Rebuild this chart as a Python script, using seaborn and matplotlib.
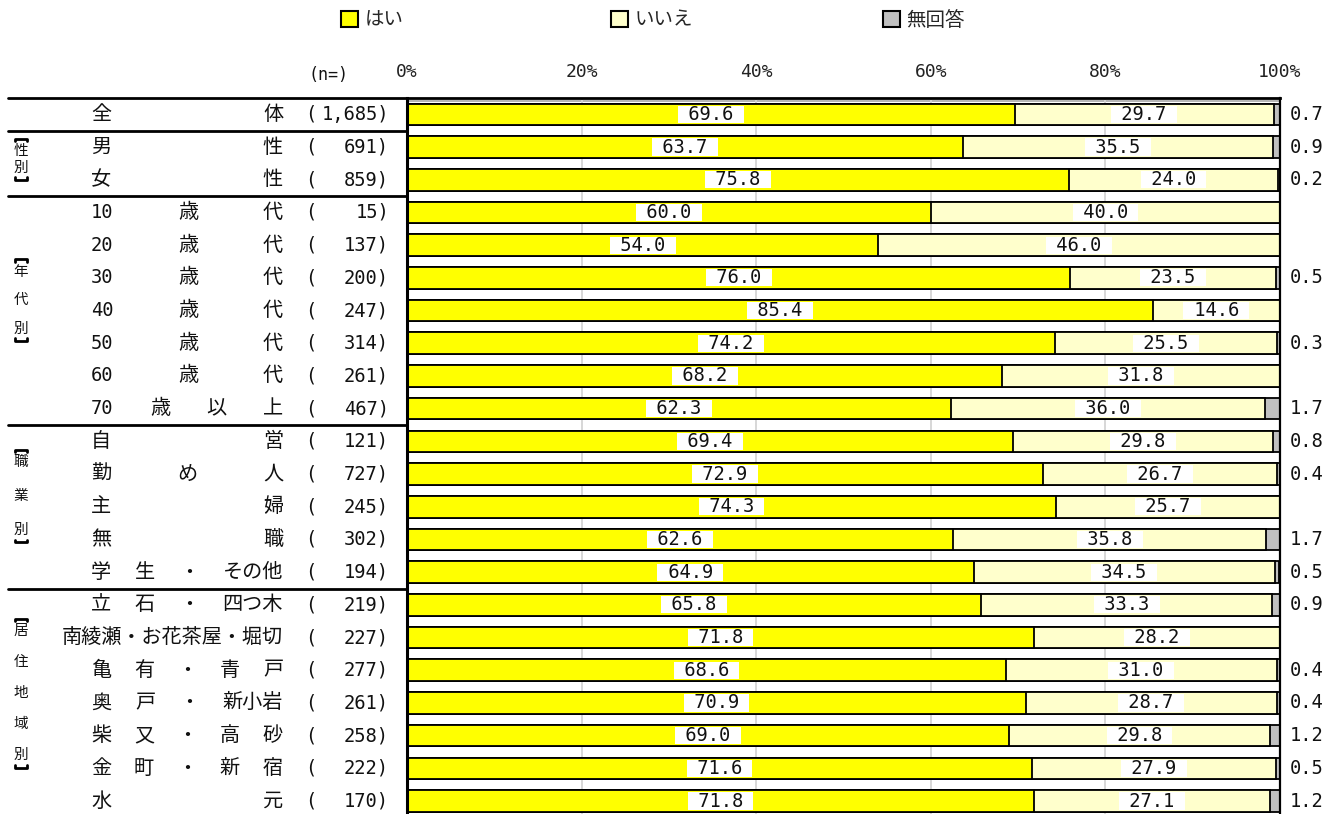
import matplotlib
matplotlib.use("Agg")
import matplotlib.pyplot as plt
from matplotlib.lines import Line2D
from matplotlib.patches import Patch
from matplotlib.transforms import blended_transform_factory
import seaborn as sns
import pandas as pd

# ---------------- data ----------------
categories = ["全体", "男性", "女性", "10歳代", "20歳代", "30歳代", "40歳代", "50歳代",
              "60歳代", "70歳以上", "自営", "勤め人", "主婦", "無職", "学生・その他",
              "立石・四つ木", "南綾瀬・お花茶屋・堀切", "亀有・青戸", "奥戸・新小岩",
              "柴又・高砂", "金町・新宿", "水元"]
label_parts = [["全", "体"], ["男", "性"], ["女", "性"], ["10", "歳", "代"],
               ["20", "歳", "代"], ["30", "歳", "代"], ["40", "歳", "代"],
               ["50", "歳", "代"], ["60", "歳", "代"], ["70", "歳", "以", "上"],
               ["自", "営"], ["勤", "め", "人"], ["主", "婦"], ["無", "職"],
               ["学", "生", "・", "その他"], ["立", "石", "・", "四つ木"],
               ["南綾瀬・お花茶屋・堀切"], ["亀", "有", "・", "青", "戸"],
               ["奥", "戸", "・", "新小岩"], ["柴", "又", "・", "高", "砂"],
               ["金", "町", "・", "新", "宿"], ["水", "元"]]
n_values = [1685, 691, 859, 15, 137, 200, 247, 314, 261, 467, 121, 727, 245, 302,
            194, 219, 227, 277, 261, 258, 222, 170]
yes_values = [69.6, 63.7, 75.8, 60.0, 54.0, 76.0, 85.4, 74.2, 68.2, 62.3, 69.4, 72.9,
              74.3, 62.6, 64.9, 65.8, 71.8, 68.6, 70.9, 69.0, 71.6, 71.8]
no_values = [29.7, 35.5, 24.0, 40.0, 46.0, 23.5, 14.6, 25.5, 31.8, 36.0, 29.8, 26.7,
             25.7, 35.8, 34.5, 33.3, 28.2, 31.0, 28.7, 29.8, 27.9, 27.1]
na_values = [0.7, 0.9, 0.2, 0.0, 0.0, 0.5, 0.0, 0.3, 0.0, 1.7, 0.8, 0.4,
             0.0, 1.7, 0.5, 0.9, 0.0, 0.4, 0.4, 1.2, 0.5, 1.2]
series_names = ["はい", "いいえ", "無回答"]
group_names = ["性別", "年代別", "職業別", "居住地域別"]
group_rows = [(1, 2), (3, 9), (10, 14), (15, 21)]
tick_values = [0, 20, 40, 60, 80, 100]

# ---------------- style ----------------
colors = ["#FFFF00", "#FFFFCC", "#C0C0C0"]
W, H = 1339, 814
sns.set_theme(style="white")
JP = ["Noto Sans CJK JP", "DejaVu Sans"]
MONO = ["DejaVu Sans Mono", "Noto Sans CJK JP"]
plt.rcParams["font.family"] = JP

fig = plt.figure(figsize=(W / 100, H / 100), dpi=100)
AX_L, AX_R, AX_T = 407, 1280, 98
PITCH = 32.7
ax = fig.add_axes([AX_L / W, 0, (AX_R - AX_L) / W, 1 - AX_T / H])

df = pd.DataFrame({"category": categories, "yes": yes_values,
                   "no": no_values, "na": na_values})
df["cum_no"] = df["yes"] + df["no"]
df["cum_na"] = df["cum_no"] + df["na"]

bar_kw = dict(orient="h", width=0.66, edgecolor="black", linewidth=1.3,
              saturation=1, errorbar=None, ax=ax, order=categories)
sns.barplot(data=df, x="cum_na", y="category", color=colors[2], **bar_kw)
sns.barplot(data=df, x="cum_no", y="category", color=colors[1], **bar_kw)
sns.barplot(data=df, x="yes", y="category", color=colors[0], **bar_kw)

ax.set_xlim(0, 100)
ax.set_xlabel("")
ax.set_ylabel("")
ax.set_yticks([])
ax.xaxis.tick_top()
ax.set_xticks(tick_values)
ax.set_xticklabels([f"{v}%" for v in tick_values])
ax.tick_params(axis="x", length=0, pad=12, labelsize=13, colors="#222222")
for lbl in ax.get_xticklabels():
    lbl.set_fontfamily(MONO)
ax.xaxis.grid(True, color="#d4d4d4", linewidth=1.3)
ax.set_axisbelow(True)
for side in ["left", "top", "right"]:
    ax.spines[side].set_visible(True)
    ax.spines[side].set_color("black")
ax.spines["left"].set_linewidth(2.2)
ax.spines["top"].set_linewidth(2.0)
ax.spines["right"].set_linewidth(1.6)
ax.spines["bottom"].set_visible(False)
ax.axhline(-0.5 + 3 / PITCH, color="#a8a8a8", linewidth=1.2, zorder=0.5)

# value labels
ax_y = blended_transform_factory(ax.transAxes, ax.transData)
for i in range(len(categories)):
    y_, n_, z_ = yes_values[i], no_values[i], na_values[i]
    box = dict(boxstyle="square,pad=-0.05", facecolor="white", edgecolor="none")
    ax.text(y_ / 2, i, f" {y_:.1f} ", ha="center", va="center", fontsize=13.5,
            family=MONO, bbox=box, color="#111111")
    ax.text(y_ + n_ / 2, i, f" {n_:.1f} ", ha="center", va="center", fontsize=13.5,
            family=MONO, bbox=box, color="#111111")
    if z_ > 0:
        ax.text(1 + 10 / (AX_R - AX_L), i, f"{z_:.1f}", transform=ax_y,
                ha="left", va="center", fontsize=13.5, family=MONO, color="#111111",
                clip_on=False)

# left label table
trans = blended_transform_factory(fig.transFigure, ax.transData)
for yline in [-0.5, 0.5, 2.5, 9.5, 14.5]:
    ax.add_line(Line2D([8 / W, AX_L / W], [yline, yline], transform=trans,
                       color="black", linewidth=2, clip_on=False))

renderer = fig.canvas.get_renderer()
X_LEFT, X_RIGHT = 91, 283


def place_parts(parts, y):
    texts = []
    for p in parts:
        asc = p.isascii()
        t = ax.text(0, y, p, transform=trans, ha="left", va="center",
                    fontsize=13.5 if asc else 14.5, family=MONO if asc else JP,
                    color="#111111", clip_on=False)
        texts.append(t)
    widths = [t.get_window_extent(renderer=renderer).width for t in texts]
    if len(texts) == 1:
        texts[0].set_ha("right")
        texts[0].set_x(X_RIGHT / W)
        return
    gap = (X_RIGHT - X_LEFT - sum(widths)) / (len(texts) - 1)
    x = X_LEFT
    for t, w in zip(texts, widths):
        t.set_x(x / W)
        x += w + gap


for i, parts in enumerate(label_parts):
    place_parts(parts, i)
    ax.text(311 / W, i, "(", transform=trans, ha="center", va="center",
            fontsize=13.5, family=MONO, color="#111111", clip_on=False)
    ax.text(389 / W, i, f"{n_values[i]:,})", transform=trans, ha="right",
            va="center", fontsize=13.5, family=MONO, color="#111111", clip_on=False)

# group labels (vertical)
steps = [0.5, 0.87, 1.04, 0.95]
offsets = [-0.12, -0.32, -0.33, -0.3]
for name, (r0, r1), st, off in zip(group_names, group_rows, steps, offsets):
    center = (r0 + r1) / 2 + off
    m = len(name)
    ys = [center + (k - (m - 1) / 2) * st for k in range(m)]
    for ch, yy in zip(name, ys):
        ax.text(21 / W, yy, ch, transform=trans, ha="center", va="center",
                fontsize=10.5, color="#111111", clip_on=False)
    ytop = ys[0] - 0.38
    ybot = ys[-1] + 0.38
    ax.add_line(Line2D([15 / W, 15 / W, 27 / W, 27 / W],
                       [ytop + 0.08, ytop, ytop, ytop + 0.08], transform=trans,
                       color="black", linewidth=2.0, clip_on=False))
    ax.add_line(Line2D([15 / W, 15 / W, 27 / W, 27 / W],
                       [ybot - 0.08, ybot, ybot, ybot - 0.08], transform=trans,
                       color="black", linewidth=2.0, clip_on=False))

ax.set_ylim(-0.5 + (H - AX_T) / PITCH, -0.5)
ax.set_xlim(0, 100)

fig.text(328 / W, 1 - 75 / H, "(n=)", ha="center", va="center", fontsize=12,
         family=MONO, color="#111111")

# legend
for name, c, xpx in zip(series_names, colors, [341, 611, 883]):
    fig.legend(handles=[Patch(facecolor=c, edgecolor="black", linewidth=1.5)],
               labels=[name], loc="center left",
               bbox_to_anchor=(xpx / W, 1 - 20 / H), frameon=False,
               borderpad=0, borderaxespad=0, handlelength=0.85,
               handleheight=0.85, handletextpad=0.35, fontsize=14)

fig.savefig("out.png", dpi=100)
